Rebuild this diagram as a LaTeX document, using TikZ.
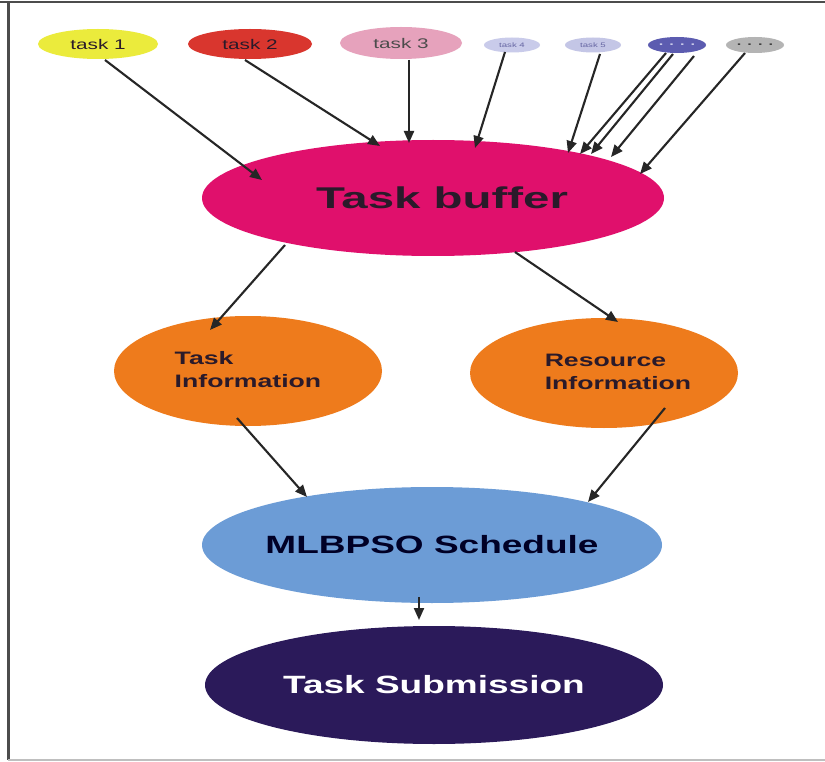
\documentclass[tikz,border=0pt]{standalone}
\usepackage{fontspec}
\setmainfont{Liberation Sans}
\usetikzlibrary{shapes.geometric,arrows.meta}
\definecolor{cyel}{HTML}{EBEB3C}
\definecolor{cred}{HTML}{D9362E}
\definecolor{cpink}{HTML}{E6A2BC}
\definecolor{clav}{HTML}{C9CBEA}
\definecolor{clav2}{HTML}{C4C6E6}
\definecolor{cpur}{HTML}{5C5CB0}
\definecolor{cgray}{HTML}{B4B4B4}
\definecolor{cmag}{HTML}{E0106C}
\definecolor{corg}{HTML}{EE7B1C}
\definecolor{cblue}{HTML}{6C9CD6}
\definecolor{cnavy}{HTML}{2B1A5A}
\definecolor{ctxt}{HTML}{2A1A2A}
\newcommand{\sx}[1]{\scalebox{1.48}[1]{#1}}
\begin{document}
\begin{tikzpicture}[x=1pt,y=-1pt,
  ell/.style={ellipse,inner sep=0pt,draw=none},
  big/.style={ellipse,inner sep=-30pt,draw=none},
  arr/.style={line width=2.1pt,-{Triangle[length=12pt,width=10pt]},black!85}]
\useasboundingbox (0,0) rectangle (825,762);
\fill[white] (0,0) rectangle (825,762);
% frame
\draw[black!70,line width=2pt] (0,2) -- (825,2);
\draw[black!70,line width=3pt] (8,2) -- (8,760);
\draw[black!25,line width=1.5pt] (8,760) -- (825,760);
% small task nodes
\node[ell,fill=cyel,minimum width=120pt,minimum height=30pt] (t1) at (98,44) {\fontsize{14}{16}\selectfont\color{ctxt}\sx{task 1}};
\node[ell,fill=cred,minimum width=124pt,minimum height=30pt] (t2) at (250,44) {\fontsize{14}{16}\selectfont\color{ctxt}\sx{task 2}};
\node[ell,fill=cpink,minimum width=122pt,minimum height=32pt] (t3) at (401,43) {\fontsize{14}{16}\selectfont\color{black!70}\sx{task 3}};
\node[ell,fill=clav,minimum width=56pt,minimum height=15pt] (t4) at (512,45) {\fontsize{6.5}{7}\selectfont\color{black!60!blue!60}\sx{task 4}};
\node[ell,fill=clav2,minimum width=56pt,minimum height=15pt] (t5) at (593,45) {\fontsize{6.5}{7}\selectfont\color{black!60!blue!60}\sx{task 5}};
\node[ell,fill=cpur,minimum width=58pt,minimum height=16pt] (t6) at (677,45) {\fontsize{11}{11}\selectfont\bfseries\color{clav}\sx{. . . .}};
\node[ell,fill=cgray,minimum width=58pt,minimum height=16pt] (t7) at (755,45) {\fontsize{11}{11}\selectfont\bfseries\color{black!75}\sx{. . . .}};
% main nodes
\node[big,fill=cmag,minimum width=462pt,minimum height=116pt] (buf) at (433,198) {\fontsize{30}{34}\selectfont\bfseries\color{ctxt}\hspace*{18pt}\scalebox{1.58}[1]{Task buffer}};
\node[big,fill=corg,minimum width=268pt,minimum height=110pt] (ti) at (248,371) {\fontsize{18}{23}\selectfont\bfseries\color{ctxt}\sx{\begin{tabular}{@{}l@{}}Task\\Information\end{tabular}}};
\node[big,fill=corg,minimum width=268pt,minimum height=110pt] (ri) at (604,373) {\fontsize{18}{23}\selectfont\bfseries\color{ctxt}\hspace*{28pt}\sx{\begin{tabular}{@{}l@{}}Resource\\Information\end{tabular}}};
\node[big,fill=cblue,minimum width=460pt,minimum height=116pt] (ml) at (432,545) {\fontsize{25}{28}\selectfont\bfseries\color{black!85!blue}\sx{MLBPSO Schedule}};
\node[big,fill=cnavy,minimum width=458pt,minimum height=118pt] (sub) at (434,685) {\fontsize{25}{28}\selectfont\bfseries\color{white}\sx{Task Submission}};
% arrows into task buffer
\draw[arr] ([shift={(7,16)}]t1.center) -- ([shift={(-171,-18)}]buf.center);
\draw[arr] ([shift={(-5,16)}]t2.center) -- ([shift={(-53,-52)}]buf.center);
\draw[arr] ([shift={(8,17)}]t3.center) -- ([shift={(-24,-55)}]buf.center);
\draw[arr] ([shift={(-7,7)}]t4.center) -- ([shift={(42,-50)}]buf.center);
\draw[arr] ([shift={(7,9)}]t5.center) -- ([shift={(135,-45)}]buf.center);
\draw[arr] ([shift={(-11,8)}]t6.center) -- ([shift={(147,-44)}]buf.center);
\draw[arr] ([shift={(-4,9)}]t6.center) -- ([shift={(158,-44)}]buf.center);
\draw[arr] ([shift={(17,11)}]t6.center) -- ([shift={(178,-41)}]buf.center);
\draw[arr] ([shift={(-10,8)}]t7.center) -- ([shift={(207,-24)}]buf.center);
% lower arrows
\draw[arr] ([shift={(-148,47)}]buf.center) -- ([shift={(-38,-41)}]ti.center);
\draw[arr] ([shift={(82,54)}]buf.center) -- ([shift={(14,-51)}]ri.center);
\draw[arr] ([shift={(-11,47)}]ti.center) -- ([shift={(-125,-48)}]ml.center);
\draw[arr] ([shift={(61,35)}]ri.center) -- ([shift={(156,-43)}]ml.center);
\draw[arr] ([shift={(-13,52)}]ml.center) -- ([shift={(-15,-65)}]sub.center);
\end{tikzpicture}
\end{document}
